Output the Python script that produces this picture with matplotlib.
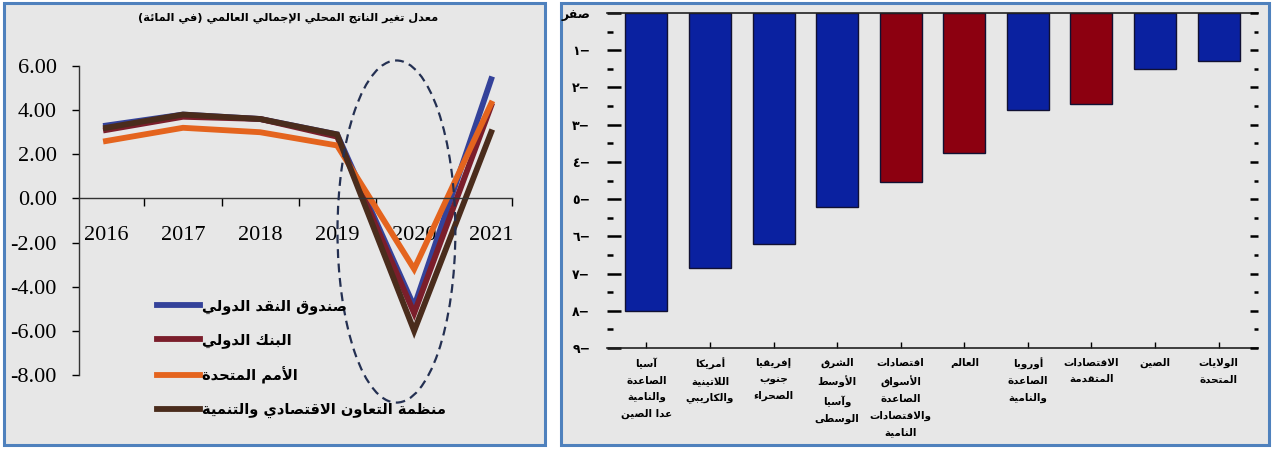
"""Two-panel figure: world GDP growth forecasts and 2020 growth revisions by region."""

import numpy as np
import matplotlib.pyplot as plt
from matplotlib.patches import Rectangle, Ellipse

# --- left panel: GDP growth forecasts (percent)
years = ['2016', '2017', '2018', '2019', '2020', '2021']
imf = [3.3, 3.8, 3.6, 2.9, -4.9, 5.4]
world_bank = [3.1, 3.7, 3.6, 2.8, -5.2, 4.2]
un = [2.6, 3.2, 3.0, 2.4, -3.2, 4.3]
oecd = [3.2, 3.8, 3.6, 2.9, -6.0, 3.0]
series_names = ['صندوق النقد الدولي', 'البنك الدولي', 'الأمم المتحدة',
                'منظمة التعاون الاقتصادي والتنمية']
left_title = 'معدل تغير الناتج المحلي الإجمالي العالمي (في المائة)'
y_ticks_left = [6, 4, 2, 0, -2, -4, -6, -8]

# --- right panel: growth revision by region (percentage points)
regions = ['آسيا\nالصاعدة\nوالنامية\nعدا الصين',
           'أمريكا\nاللاتينية\nوالكاريبي',
           'إفريقيا\nجنوب\nالصحراء',
           'الشرق\nالأوسط\nوآسيا\nالوسطى',
           'اقتصادات\nالأسواق\nالصاعدة\nوالاقتصادات\nالنامية',
           'العالم',
           'أوروبا\nالصاعدة\nوالنامية',
           'الاقتصادات\nالمتقدمة',
           'الصين',
           'الولايات\nالمتحدة']
revision = [8.0, 6.85, 6.2, 5.2, 4.55, 3.75, 2.6, 2.45, 1.5, 1.3]
aggregate = [False, False, False, False, True, True, False, True, False, False]
y_ticks_right = list(range(10))
y_labels_right = ['صفر'] + ['−' + '٠١٢٣٤٥٦٧٨٩'[i] for i in range(1, 10)]

# Arabic presentation forms: letter -> (isolated form, number of forms)
FORMS = {
    'ء': (0xFE80, 1), 'آ': (0xFE81, 2), 'أ': (0xFE83, 2), 'ؤ': (0xFE85, 2),
    'إ': (0xFE87, 2), 'ئ': (0xFE89, 4), 'ا': (0xFE8D, 2), 'ب': (0xFE8F, 4),
    'ة': (0xFE93, 2), 'ت': (0xFE95, 4), 'ث': (0xFE99, 4), 'ج': (0xFE9D, 4),
    'ح': (0xFEA1, 4), 'خ': (0xFEA5, 4), 'د': (0xFEA9, 2), 'ذ': (0xFEAB, 2),
    'ر': (0xFEAD, 2), 'ز': (0xFEAF, 2), 'س': (0xFEB1, 4), 'ش': (0xFEB5, 4),
    'ص': (0xFEB9, 4), 'ض': (0xFEBD, 4), 'ط': (0xFEC1, 4), 'ظ': (0xFEC5, 4),
    'ع': (0xFEC9, 4), 'غ': (0xFECD, 4), 'ف': (0xFED1, 4), 'ق': (0xFED5, 4),
    'ك': (0xFED9, 4), 'ل': (0xFEDD, 4), 'م': (0xFEE1, 4), 'ن': (0xFEE5, 4),
    'ه': (0xFEE9, 4), 'و': (0xFEED, 2), 'ى': (0xFEEF, 2), 'ي': (0xFEF1, 4),
}
LAM_ALEF = {'آ': 0xFEF5, 'أ': 0xFEF7, 'إ': 0xFEF9, 'ا': 0xFEFB}
MIRROR = {'(': ')', ')': '('}


def shape_line(line):
    """Join Arabic letters and put the line in visual (left-to-right) order."""
    units = []
    i = 0
    while i < len(line):
        c = line[i]
        if c == 'ل' and i + 1 < len(line) and line[i + 1] in LAM_ALEF:
            units.append((LAM_ALEF[line[i + 1]], 2))
            i += 2
            continue
        units.append(FORMS.get(c, c))
        i += 1

    out = []
    for k, u in enumerate(units):
        if isinstance(u, str):
            out.append(MIRROR.get(u, u))
            continue
        base, n = u
        prev = units[k - 1] if k > 0 else None
        nxt = units[k + 1] if k + 1 < len(units) else None
        join_prev = isinstance(prev, tuple) and prev[1] == 4 and n > 1
        join_next = n == 4 and isinstance(nxt, tuple) and nxt[1] > 1
        if n == 1:
            form = 0
        elif n == 2:
            form = 1 if join_prev else 0
        else:
            form = {(False, False): 0, (True, False): 1,
                    (False, True): 2, (True, True): 3}[(join_prev, join_next)]
        out.append(chr(base + form))
    return ''.join(reversed(out))


def ar(text):
    return '\n'.join(shape_line(line) for line in text.split('\n'))


plt.rcParams['font.family'] = ['DejaVu Sans']

fig = plt.figure(figsize=(12.73, 4.49), dpi=100)

# panel frames
panel_bg = '#e7e7e7'
border = '#4f81bd'
for x0, x1 in [(4, 545), (561, 1269)]:
    fig.patches.append(Rectangle((x0 / 1273, 1 - 445 / 449), (x1 - x0) / 1273,
                                 (445 - 3) / 449, transform=fig.transFigure,
                                 facecolor=panel_bg, edgecolor=border,
                                 linewidth=2.2, zorder=-5))

# ---------------- left panel ----------------
ax = fig.add_axes([79 / 1273, 1 - 375 / 449, (512 - 79) / 1273, (375 - 66) / 449])
ax.set_facecolor('none')
x = np.arange(len(years))
colors = ['#34429a', '#7b1e2b', '#e4641e', '#4a2c1c']
for vals, name, col in zip([imf, world_bank, un, oecd], series_names, colors):
    ax.plot(x, vals, color=col, lw=4.2, label=ar(name), solid_joinstyle='miter')

ax.add_patch(Ellipse((3.77, -1.5), 1.53, 15.5, fill=False, ls=(0, (4, 2.5)),
                     lw=1.6, edgecolor='#243052', zorder=5, clip_on=False))

ax.set_xlim(-0.35, 5.27)
ax.set_ylim(-8, 6)
ax.set_yticks(y_ticks_left)
ax.set_yticklabels([f'{v:.2f}' for v in y_ticks_left])
ax.set_xticks(x)
ax.set_xticklabels(years)
ax.set_xticks(list(np.arange(0.5, 5, 1)) + [5.27], minor=True)
ax.tick_params(labelfontfamily='Liberation Serif', labelsize=16)
ax.tick_params(axis='x', which='major', length=0, pad=20)
ax.tick_params(axis='x', which='minor', direction='out', length=6, width=1)
ax.tick_params(axis='y', direction='out', length=5, width=1, pad=11)
ax.spines['bottom'].set_position(('data', 0))
ax.spines['top'].set_visible(False)
ax.spines['right'].set_visible(False)
for s in ['left', 'bottom']:
    ax.spines[s].set_color('#333333')
    ax.spines[s].set_linewidth(1)

fig.text(288 / 1273, 1 - 18 / 449, ar(left_title), ha='center', va='center',
         fontsize=8.2, fontweight='bold')

ax.legend(loc='upper left', bbox_to_anchor=(150 / 1273, 1 - 291 / 449),
          bbox_transform=fig.transFigure, frameon=False,
          prop={'size': 10.5, 'weight': 'bold'},
          handlelength=2.95, handletextpad=0.1, labelspacing=1.25,
          borderpad=0)

# ---------------- right panel ----------------
bx = fig.add_axes([607 / 1273, 1 - 348 / 449, (1258 - 607) / 1273, (348 - 13) / 449])
bx.set_facecolor('none')
pos = np.arange(len(regions))
bar_colors = ['#8c0010' if a else '#0a21a0' for a in aggregate]
bx.bar(pos, revision, width=0.66, color=bar_colors, edgecolor='#111133',
       linewidth=1)
bx.set_xlim(-0.62, 9.62)
bx.set_ylim(9, 0)
bx.set_yticks(y_ticks_right)
bx.set_yticklabels([ar(t) for t in y_labels_right], fontsize=9, fontweight='bold')
bx.set_yticks(np.arange(0.5, 9, 1), minor=True)
bx.tick_params(axis='y', which='major', direction='in', length=10, width=1.8,
               pad=12)
bx.tick_params(axis='y', which='minor', direction='in', length=4, width=1.8)
bx.set_xticks(pos)
bx.set_xticklabels([ar(r) for r in regions], fontsize=7.5, fontweight='bold',
                   linespacing=1.8, va='top')
bx.tick_params(axis='x', direction='in', length=4, width=1, pad=7)
bx.spines['left'].set_visible(False)
bx.spines['right'].set_visible(False)
for s in ['top', 'bottom']:
    bx.spines[s].set_color('#222222')
    bx.spines[s].set_linewidth(1.2)

# shorter tick marks along the right edge
rx = bx.twinx()
rx.set_ylim(9, 0)
rx.set_yticks(y_ticks_right)
rx.set_yticks(np.arange(0.5, 9, 1), minor=True)
rx.tick_params(axis='y', which='major', direction='in', length=6, width=1.8,
               labelright=False)
rx.tick_params(axis='y', which='minor', direction='in', length=3, width=1.8)
for s in rx.spines.values():
    s.set_visible(False)

fig.savefig('out.png', dpi=100)
